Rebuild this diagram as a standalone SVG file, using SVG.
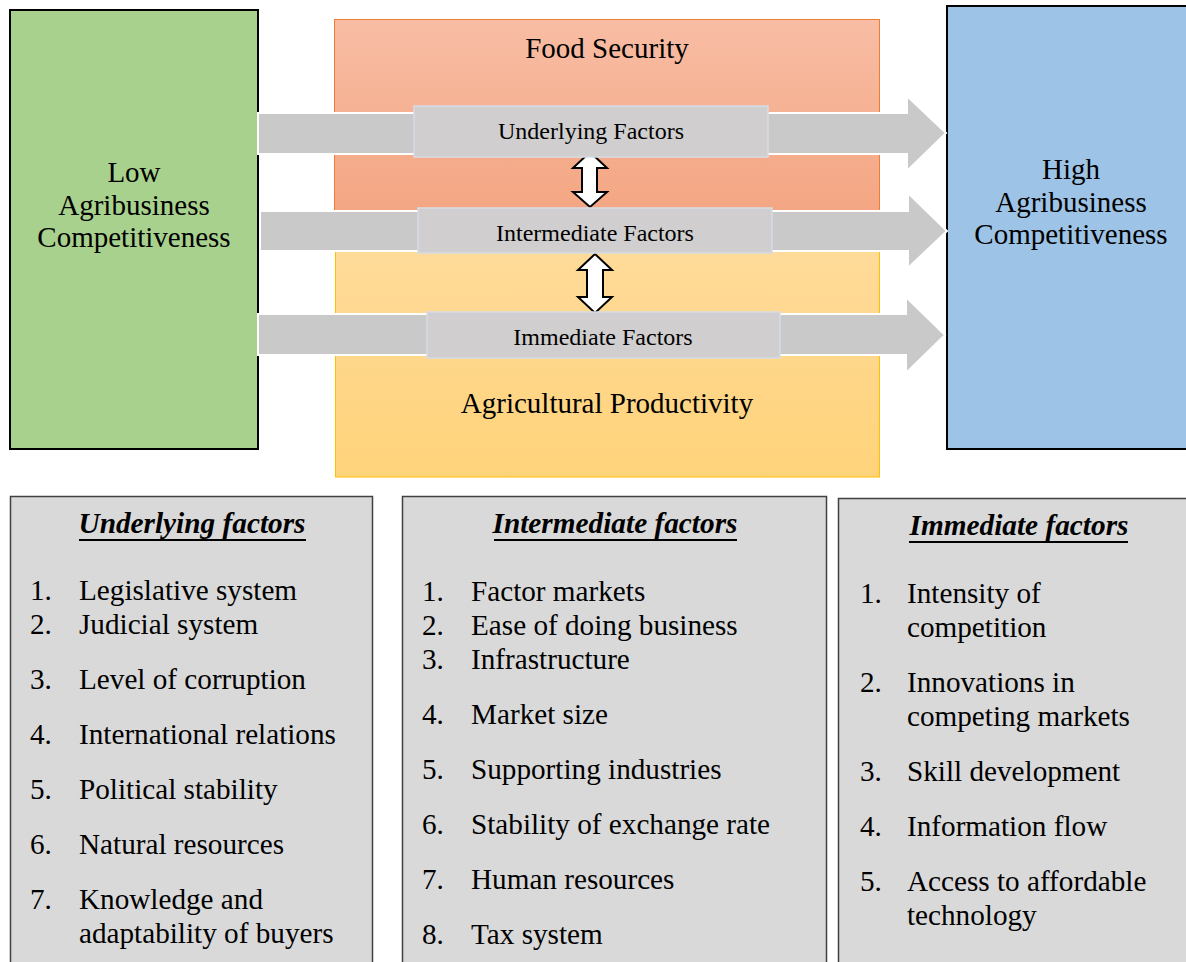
<svg xmlns="http://www.w3.org/2000/svg" width="1186" height="962" viewBox="0 0 1186 962">
<defs>
<linearGradient id="gOr" x1="0" y1="0" x2="0" y2="1"><stop offset="0" stop-color="#F8BDA4"/><stop offset="1" stop-color="#F4A683"/></linearGradient>
<linearGradient id="gYe" x1="0" y1="0" x2="0" y2="1"><stop offset="0" stop-color="#FFDB9A"/><stop offset="1" stop-color="#FFD37A"/></linearGradient>
<style>
text{font-family:"Liberation Serif","Times New Roman",serif;fill:#000}
.big{font-size:29px}
.mid{font-size:24px}
.lst{font-size:29.2px}
.hdr{font-size:29.3px;font-weight:bold;font-style:italic}
.c{text-anchor:middle}
.arrow{fill:#C9C9C9;stroke:#fff;stroke-width:2}
.lab{fill:#D0CECE;stroke:#D6DCE5;stroke-width:1.5}
.dbl{fill:#fff;stroke:#000;stroke-width:2;stroke-linejoin:miter}
.panel{fill:#D9D9D9;stroke:#404040;stroke-width:1.5}
.ul{stroke:#000;stroke-width:2}
</style>
</defs>
<rect width="1186" height="962" fill="#fff"/>
<g id="low">
<rect x="10" y="10" width="248" height="439" fill="#A9D18E" stroke="#000" stroke-width="2"/>
<text class="big c" x="134" y="182">Low</text>
<text class="big c" x="134" y="215">Agribusiness</text>
<text class="big c" x="134" y="247">Competitiveness</text>
</g>
<g id="high">
<rect x="947" y="6" width="245" height="443" fill="#9DC3E6" stroke="#000" stroke-width="2"/>
<text class="big c" x="1071" y="179">High</text>
<text class="big c" x="1071" y="212">Agribusiness</text>
<text class="big c" x="1071" y="244">Competitiveness</text>
</g>
<g id="food-security">
<rect x="334.5" y="19.5" width="545" height="192" fill="url(#gOr)" stroke="#ED7D31" stroke-width="1"/>
<text class="big c" x="607" y="58">Food Security</text>
</g>
<g id="agri-productivity">
<rect x="335.5" y="250" width="544" height="227" fill="url(#gYe)" stroke="#FFC000" stroke-width="1"/>
<text class="big c" x="607" y="413">Agricultural Productivity</text>
</g>
<g id="connectors">
<polygon class="arrow" points="258,113 907,113 907,96 946,133 907,171 907,154 258,154"/>
<polygon class="arrow" points="260,211 908,211 908,193 947,231 908,268 908,251 260,251"/>
<polygon class="arrow" points="258,314 906,314 906,297 945,335 906,373 906,355 258,355"/>
<polygon class="dbl" points="590,152 607,168 597,168 597,192 607,192 590,207 573,192 582,192 582,168 573,168"/>
<polygon class="dbl" points="595,254 612,270 603,270 603,297 612,297 595,313 578,297 587,297 587,270 578,270"/>
</g>
<g id="underlying-label">
<rect class="lab" x="414" y="106" width="354" height="51"/>
<text class="mid c" x="591" y="139">Underlying Factors</text>
</g>
<g id="intermediate-label">
<rect class="lab" x="418" y="208" width="354" height="45"/>
<text class="mid c" x="595" y="241">Intermediate Factors</text>
</g>
<g id="immediate-label">
<rect class="lab" x="427" y="312" width="353" height="46"/>
<text class="mid c" x="603" y="345">Immediate Factors</text>
</g>
<g id="underlying-panel">
<rect class="panel" x="10.5" y="496.5" width="362" height="480"/>
<text class="hdr c" x="192" y="533">Underlying factors</text>
<line class="ul" x1="79" y1="540" x2="306" y2="540"/>
<text class="lst" x="30" y="600">1.</text><text class="lst" x="79" y="600">Legislative system</text>
<text class="lst" x="30" y="634">2.</text><text class="lst" x="79" y="634">Judicial system</text>
<text class="lst" x="30" y="689">3.</text><text class="lst" x="79" y="689">Level of corruption</text>
<text class="lst" x="30" y="744">4.</text><text class="lst" x="79" y="744">International relations</text>
<text class="lst" x="30" y="799">5.</text><text class="lst" x="79" y="799">Political stability</text>
<text class="lst" x="30" y="854">6.</text><text class="lst" x="79" y="854">Natural resources</text>
<text class="lst" x="30" y="909">7.</text><text class="lst" x="79" y="909">Knowledge and</text>
<text class="lst" x="79" y="943">adaptability of buyers</text>
</g>
<g id="intermediate-panel">
<rect class="panel" x="402.5" y="496.5" width="424" height="480"/>
<text class="hdr c" x="615" y="533">Intermediate factors</text>
<line class="ul" x1="494" y1="540" x2="737" y2="540"/>
<text class="lst" x="422" y="601">1.</text><text class="lst" x="471" y="601">Factor markets</text>
<text class="lst" x="422" y="635">2.</text><text class="lst" x="471" y="635">Ease of doing business</text>
<text class="lst" x="422" y="669">3.</text><text class="lst" x="471" y="669">Infrastructure</text>
<text class="lst" x="422" y="724">4.</text><text class="lst" x="471" y="724">Market size</text>
<text class="lst" x="422" y="779">5.</text><text class="lst" x="471" y="779">Supporting industries</text>
<text class="lst" x="422" y="834">6.</text><text class="lst" x="471" y="834">Stability of exchange rate</text>
<text class="lst" x="422" y="889">7.</text><text class="lst" x="471" y="889">Human resources</text>
<text class="lst" x="422" y="944">8.</text><text class="lst" x="471" y="944">Tax system</text>
</g>
<g id="immediate-panel">
<rect class="panel" x="838.5" y="498.5" width="360" height="480"/>
<text class="hdr c" x="1019" y="535">Immediate factors</text>
<line class="ul" x1="909" y1="542" x2="1128" y2="542"/>
<text class="lst" x="860" y="603">1.</text><text class="lst" x="907" y="603">Intensity of</text>
<text class="lst" x="907" y="637">competition</text>
<text class="lst" x="860" y="692">2.</text><text class="lst" x="907" y="692">Innovations in</text>
<text class="lst" x="907" y="726">competing markets</text>
<text class="lst" x="860" y="781">3.</text><text class="lst" x="907" y="781">Skill development</text>
<text class="lst" x="860" y="836">4.</text><text class="lst" x="907" y="836">Information flow</text>
<text class="lst" x="860" y="891">5.</text><text class="lst" x="907" y="891">Access to affordable</text>
<text class="lst" x="907" y="925">technology</text>
</g>
</svg>
